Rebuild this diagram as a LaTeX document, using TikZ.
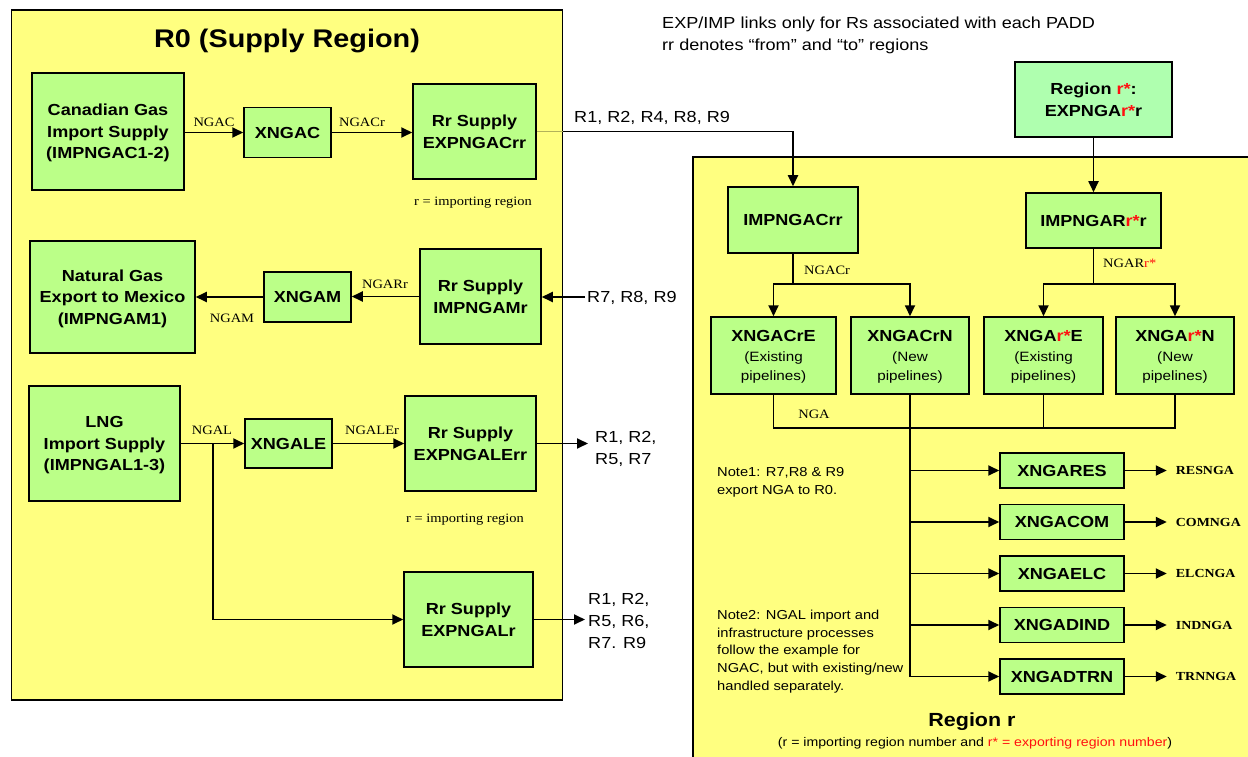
\documentclass[tikz,border=0pt]{standalone}
\usepackage{fontspec}
\setmainfont{Liberation Sans}[FakeStretch=1.13]
\newfontfamily\tms{Liberation Serif}[FakeStretch=1.13]
\usetikzlibrary{arrows.meta}
\definecolor{regyellow}{HTML}{FFFF80}
\definecolor{boxgreen}{HTML}{BBFF88}
\definecolor{mint}{HTML}{AFFFAF}
\definecolor{hot}{HTML}{FF1010}
\newcommand{\rstar}{\textcolor{hot}{r*}}
\newcommand{\pipe}[1]{{\mdseries\fontsize{13.5}{18}\selectfont #1}}

\begin{document}
\begin{tikzpicture}[x=1pt,y=-1pt,
  region/.style={draw=black, line width=1.7pt, fill=regyellow, inner sep=0pt},
  proc/.style={draw=black, line width=1.5pt, fill=boxgreen, align=center, inner sep=0pt,
    text depth=-3pt, font=\bfseries\fontsize{16}{21.7}\selectfont},
  pipebox/.style={proc, minimum height=77, font=\bfseries\fontsize{16}{19.5}\selectfont},
  sector/.style={proc, minimum width=124, minimum height=35},
  flow/.style={line width=1.8pt, -{Triangle[length=11pt,width=10pt]}},
  wire/.style={line width=1.6pt},
  lab/.style={font=\tms\fontsize{12.8}{15}\selectfont, inner sep=0pt},
  outlab/.style={font=\tms\bfseries\fontsize{12.3}{15}\selectfont, inner sep=0pt, anchor=west},
  dest/.style={font=\fontsize{16}{22}\selectfont, align=left, inner sep=0pt, anchor=west},
  note/.style={font=\fontsize{13}{17.8}\selectfont, align=left, inner sep=0pt, anchor=west}]

\useasboundingbox (0,0) rectangle (1248,757);

% ---------- regions ----------
\node[region, minimum width=551, minimum height=690] (r0) at (287,355) {};
\node[font=\bfseries\fontsize{25.5}{30}\selectfont] (r0title) at (287,41) {R0 (Supply Region)};

\fill[regyellow] (693,157) rectangle (1248,757);
\draw[line width=1.7pt] (693,757) -- (693,157) -- (1248,157);

\node[dest] (hdr) at (662,35) {EXP/IMP links only for Rs associated with each PADD\\rr denotes “from” and “to” regions};

% ---------- R0 processes ----------
\node[proc, minimum width=152, minimum height=117] (can) at (108,131.5) {Canadian Gas\\Import Supply\\(IMPNGAC1-2)};
\node[proc, minimum width=87, minimum height=50] (xngac) at (287.5,132.5) {XNGAC};
\node[proc, minimum width=123, minimum height=95] (expngac) at (474.5,131.5) {Rr Supply\\EXPNGACrr};

\node[proc, minimum width=165, minimum height=112] (natgas) at (112.5,297) {Natural Gas\\Export to Mexico\\(IMPNGAM1)};
\node[proc, minimum width=87, minimum height=50] (xngam) at (307.5,297) {XNGAM};
\node[proc, minimum width=121, minimum height=95] (impngam) at (480.5,296.5) {Rr Supply\\IMPNGAMr};

\node[proc, minimum width=151, minimum height=115] (lng) at (104.5,443.5) {LNG\\Import Supply\\(IMPNGAL1-3)};
\node[proc, minimum width=87, minimum height=49] (xngale) at (288.5,443.5) {XNGALE};
\node[proc, minimum width=131, minimum height=95] (expngale) at (470.5,443.5) {Rr Supply\\EXPNGALErr};
\node[proc, minimum width=129, minimum height=95] (expngal) at (468.5,619.5) {Rr Supply\\EXPNGALr};

% ---------- region r processes ----------
\node[proc, fill=mint, minimum width=157, minimum height=75] (regstar) at (1093.5,99.5) {Region \rstar:\\EXPNGA\rstar r};
\node[proc, minimum width=130, minimum height=66] (impngac) at (793,220) {IMPNGACrr};
\node[proc, minimum width=135, minimum height=55] (impngar) at (1093.5,220.5) {IMPNGAR\rstar r};

\node[pipebox, minimum width=125] (xngacre) at (773.5,355.5) {XNGACrE\\\pipe{(Existing}\\\pipe{pipelines)}};
\node[pipebox, minimum width=118] (xngacrn) at (910,355.5) {XNGACrN\\\pipe{(New}\\\pipe{pipelines)}};
\node[pipebox, minimum width=119] (xngare) at (1043.5,355.5) {XNGA\rstar E\\\pipe{(Existing}\\\pipe{pipelines)}};
\node[pipebox, minimum width=118] (xngarn) at (1175,355.5) {XNGA\rstar N\\\pipe{(New}\\\pipe{pipelines)}};

\foreach \n/\t/\y in {xngares/XNGARES/470.5, xngacom/XNGACOM/522, xngaelc/XNGAELC/573.5,
                      xngadind/XNGADIND/625, xngadtrn/XNGADTRN/676.5}
  \node[sector] (\n) at (1062,\y) {\t};

% ---------- R0 flows ----------
\draw[flow] (can.east |- xngac.west) -- (xngac.west);
\draw[flow] (xngac.east) -- (xngac.east -| expngac.west);
\draw[flow] (expngac.east) -| (impngac.north);
\draw[line width=1.8pt, draw=black!30!regyellow] (expngac.east) -- (expngac.east -| r0.east);

\draw[flow] (impngam.west) -- (impngam.west -| xngam.east);
\draw[flow] (xngam.west) -- (xngam.west -| natgas.east);
\coordinate (in789) at (585,297);
\draw[flow] (in789) -- (in789 -| impngam.east);

\draw[flow] (lng.east |- xngale.west) -- (xngale.west);
\draw[flow] (xngale.east) -- (xngale.east -| expngale.west);
\coordinate (out1257) at (588,443.5);
\draw[flow] (expngale.east) -- (out1257);
\coordinate (lngtap) at (213,443.5);
\draw[flow] (lngtap) |- (expngal.west);
\coordinate (outLNG) at (585,619.5);
\draw[flow] (expngal.east) -- (outLNG);

% ---------- region r flows ----------
\draw[flow] (regstar.south) -- (regstar.south |- impngar.north);

\coordinate (splitL) at (793,284);
\draw[wire] (impngac.south) -- (splitL);
\draw[flow] (splitL) -| (xngacre.north);
\draw[flow] (splitL) -| (xngacrn.north);

\coordinate (splitR) at (1093.5,284);
\draw[wire] (impngar.south) -- (splitR);
\draw[flow] (splitR) -| (xngare.north);
\draw[flow] (splitR) -| (xngarn.north);

\coordinate (ngaBus) at (773.5,428);
\draw[wire] (xngacre.south) |- (xngarn.south |- ngaBus) -- (xngarn.south);
\draw[wire] (xngare.south) -- (xngare.south |- ngaBus);

\coordinate (trunkEnd) at (910,676.5);
\draw[line width=2.4pt] (xngacrn.south) -- (trunkEnd);

\foreach \n/\t in {xngares/RESNGA, xngacom/COMNGA, xngaelc/ELCNGA, xngadind/INDNGA, xngadtrn/TRNNGA}{
  \draw[flow] (trunkEnd |- \n.west) -- (\n.west);
  \path (\n.east) ++(42,0) coordinate (\n-o);
  \draw[flow] (\n.east) -- (\n-o);
  \node[outlab] at ([xshift=9pt]\n-o) {\t};
}

% ---------- flow labels ----------
\node[lab] at (214,122) {NGAC};
\node[lab] at (362,122) {NGACr};
\node[lab] at (473,203) {r = importing region};
\node[lab] at (385,284) {NGARr};
\node[lab] at (232,318) {NGAM};
\node[lab] at (212,430) {NGAL};
\node[lab] at (372,430) {NGALEr};
\node[lab] at (465,520) {r = importing region};
\node[lab, anchor=west] at (804,270) {NGACr};
\node[lab, anchor=west] at (1103,263) {NGAR\textcolor{hot}{r*}};
\node[lab] at (814,414) {NGA};

\node[dest] at (574,118) {R1, R2, R4, R8, R9};
\node[dest] at (587,298) {R7, R8, R9};
\node[dest] at (595,449) {R1, R2,\\R5, R7};
\node[dest] at (588,621) {R1, R2,\\R5, R6,\\R7. R9};

% ---------- notes ----------
\node[note] at (717,482) {Note1: R7,R8 \& R9\\export NGA to R0.};
\node[note] at (717,651.5) {Note2: NGAL import and\\infrastructure processes\\follow the example for\\NGAC, but with existing/new\\handled separately.};

\node[font=\bfseries\fontsize{19}{22}\selectfont] at (972,722) {Region r};
\node[font=\fontsize{12.5}{15}\selectfont] at (975,743) {(r = importing region number and \textcolor{hot}{r* = exporting region number})};

\end{tikzpicture}
\end{document}
